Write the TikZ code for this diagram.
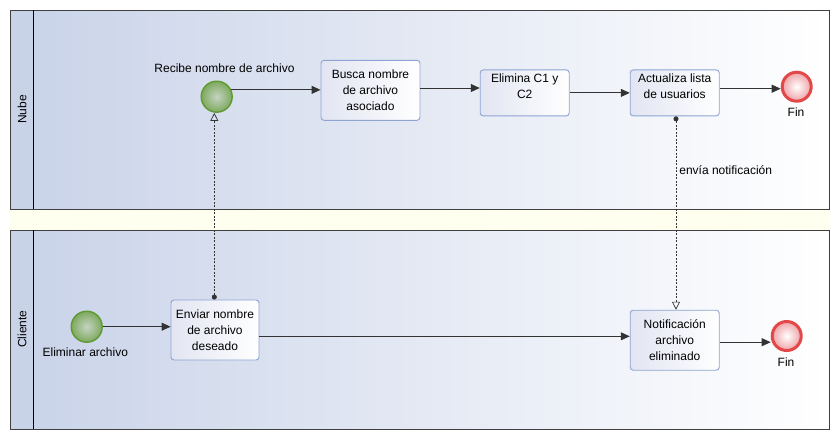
\documentclass[tikz,border=0pt]{standalone}
\usepackage{fontspec}
\setmainfont{Liberation Sans}
\usetikzlibrary{arrows.meta,shapes.geometric}
\definecolor{poolline}{HTML}{404040}
\definecolor{hdr}{HTML}{C9D3E8}
\definecolor{gradl}{HTML}{CAD4E9}
\definecolor{band}{HTML}{FFFFF0}
\definecolor{taskline}{HTML}{8EA4D2}
\definecolor{taskl}{HTML}{E2E5F2}
\definecolor{startline}{HTML}{5E9A30}
\definecolor{startin}{HTML}{C4D4C2}
\definecolor{startout}{HTML}{7EA95E}
\definecolor{endline}{HTML}{E24848}
\definecolor{endout}{HTML}{EFA2A6}
\definecolor{flow}{HTML}{333333}
\begin{document}
\begin{tikzpicture}[x=1pt,y=-1pt,
  every node/.style={font=\fontsize{12}{16}\selectfont, text=black},
  taskbox/.style={draw=taskline, line width=0.9pt, rounded corners=3pt,
    left color=taskl, right color=white, align=center, inner sep=1pt},
  startev/.style={circle, draw=startline, line width=1.4pt, minimum size=31pt,
    inner sep=0pt, inner color=startin, outer color=startout},
  endev/.style={circle, draw=endline, line width=3pt, minimum size=29pt,
    inner sep=0pt, inner color=white, outer color=endout},
  seq/.style={draw=flow, line width=0.9pt, -{Triangle[length=9pt,width=8pt]}},
  msg/.style={draw=flow, line width=0.7pt, dash pattern=on 2pt off 1.5pt,
    {Circle[length=5pt]}-{Triangle[open,length=8pt,width=8pt]}},
  lbl/.style={inner sep=0pt}
]
\useasboundingbox (0,0) rectangle (840,440);
\fill[white] (0,0) rectangle (840,440);
% band between pools
\fill[band] (10,209) rectangle (829,230);
% pools
\shade[left color=gradl, right color=white] (33,10) rectangle (829,209);
\fill[hdr] (10,10) rectangle (33,209);
\draw[poolline, line width=1pt] (10,10) rectangle (829,209);
\draw[black, line width=0.9pt] (33,10) -- (33,209);
\shade[left color=gradl, right color=white] (33,230) rectangle (829,429);
\fill[hdr] (10,230) rectangle (33,429);
\draw[poolline, line width=1pt] (10,230) rectangle (829,429);
\draw[black, line width=0.9pt] (33,230) -- (33,429);
\node[rotate=90, lbl] (nube) at (22,109.5) {Nube};
\node[rotate=90, lbl] (cliente) at (22,329) {Cliente};

% Nube lane
\node[startev] (s1) at (216.7,96.7) {};
\node[lbl] (s1l) at (224.5,68) {Recibe nombre de archivo};
\node[taskbox, minimum width=99pt, minimum height=60pt] (busca) at (370.5,90.3) {Busca nombre\\de archivo\\asociado};
\node[taskbox, minimum width=89pt, minimum height=46pt] (elim) at (524.7,92.9) {Elimina C1 y\\C2\\[-3pt]};
\node[taskbox, minimum width=89pt, minimum height=46pt] (act) at (674.7,92.9) {Actualiza lista\\de usuarios\\[-3pt]};
\node[endev] (fin1) at (796.7,86.7) {};
\node[lbl] (fin1l) at (796,112.5) {Fin};

% Cliente lane
\node[startev] (s2) at (86.7,326.7) {};
\node[lbl] (s2l) at (85.3,352.5) {Eliminar archivo};
\node[taskbox, minimum width=88pt, minimum height=60pt] (env) at (215,330) {Enviar nombre\\de archivo\\deseado};
\node[taskbox, minimum width=89pt, minimum height=60pt] (notif) at (674.7,340.2) {Notificación\\archivo\\eliminado};
\node[endev] (fin2) at (786.7,336) {};
\node[lbl] (fin2l) at (786,362.5) {Fin};

% sequence flows
\draw[seq] (s1.25) -- (s1.25 -| busca.west);
\draw[seq] ([yshift=2.3pt]busca.east) -- ([yshift=2.3pt]busca.east -| elim.west);
\draw[seq] (elim.east) -- (act.west);
\draw[seq] ([yshift=4.2pt]act.east) -- ([yshift=4.2pt]act.east -| fin1.west);
\draw[seq] (s2) -- (s2 -| env.west);
\draw[seq] ([yshift=-6.3pt]env.east) -- ([yshift=-6.3pt]env.east -| notif.west);
\draw[seq] ([yshift=-2pt]notif.east) -- ([yshift=-2pt]notif.east -| fin2.west);

% message flows
\draw[msg] ([xshift=-0.7pt]env.north) -- ([xshift=-0.7pt]env.north |- s1.south);
\draw[msg] ([xshift=1.3pt]act.south) -- ([xshift=1.3pt]act.south |- notif.north)
  node[pos=0.28, right, inner sep=3pt] (msgl) {envía notificación};
\end{tikzpicture}
\end{document}
